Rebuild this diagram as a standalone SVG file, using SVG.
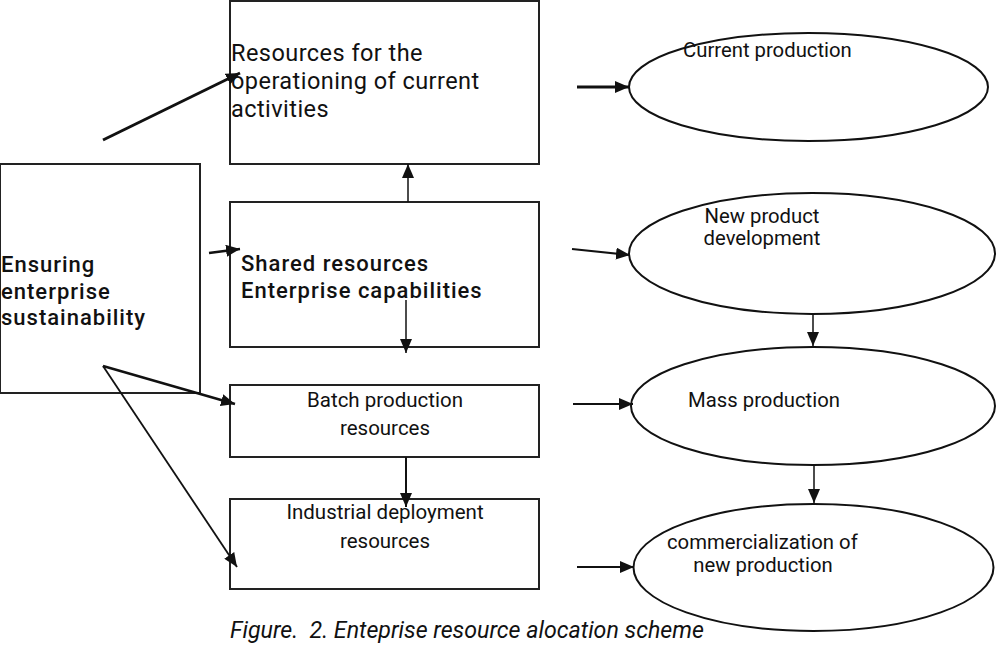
<svg xmlns="http://www.w3.org/2000/svg" width="997" height="654" viewBox="0 0 997 654">
<defs>
<style>
.box{fill:#fff;stroke:#222;stroke-width:2}
.ell{fill:#fff;stroke:#111;stroke-width:2}
.t{font-family:Roboto,"Liberation Sans",sans-serif;fill:#111}
.big{font-size:23.5px;letter-spacing:0.45px}
.bold{font-size:22px;font-weight:500;letter-spacing:1px}
.mid{font-size:20.5px}
.sm{font-size:20.3px}
.cap{font-size:23.2px;font-style:italic;white-space:pre}
.c{stroke:#111;fill:none;marker-end:url(#ah)}
</style>
<marker id="ah" markerUnits="userSpaceOnUse" markerWidth="14" markerHeight="12" refX="14" refY="6" orient="auto">
<path d="M0,0 L14,6 L0,12 z" fill="#111"/>
</marker>
</defs>
<rect width="997" height="654" fill="#fff"/>
<g id="n-ensuring">
<rect class="box" x="0" y="164" width="200" height="229"/>
<text class="t bold" x="1" y="272">Ensuring</text>
<text class="t bold" x="1" y="298.5">enterprise</text>
<text class="t bold" x="1" y="325">sustainability</text>
</g>
<g id="n-current-resources">
<rect class="box" x="230" y="1" width="309" height="163"/>
<text class="t big" x="231" y="61">Resources for the</text>
<text class="t big" x="231" y="89">operationing of current</text>
<text class="t big" x="231" y="117">activities</text>
</g>
<g id="n-shared">
<rect class="box" x="230" y="202" width="309" height="145"/>
<text class="t bold" x="241" y="271">Shared resources</text>
<text class="t bold" x="241" y="297.5">Enterprise capabilities</text>
</g>
<g id="n-batch">
<rect class="box" x="230" y="385" width="309" height="72"/>
<text class="t mid" x="385" y="407" text-anchor="middle">Batch production</text>
<text class="t mid" x="385" y="435" text-anchor="middle">resources</text>
</g>
<g id="n-industrial">
<rect class="box" x="230" y="499" width="309" height="90"/>
<text class="t mid" x="385" y="519" text-anchor="middle">Industrial deployment</text>
<text class="t mid" x="385" y="548" text-anchor="middle">resources</text>
</g>
<g id="n-current-production">
<ellipse class="ell" cx="808.5" cy="87" rx="179.5" ry="54"/>
<text class="t sm" x="683" y="57">Current production</text>
</g>
<g id="n-new-product">
<ellipse class="ell" cx="812" cy="253.5" rx="183" ry="60.5"/>
<text class="t sm" x="762" y="223" text-anchor="middle">New product</text>
<text class="t sm" x="762" y="245" text-anchor="middle">development</text>
</g>
<g id="n-mass">
<ellipse class="ell" cx="813" cy="406" rx="182" ry="59"/>
<text class="t sm" x="764" y="407" text-anchor="middle">Mass production</text>
</g>
<g id="n-commercialization">
<ellipse class="ell" cx="813.5" cy="567.5" rx="180" ry="63.5"/>
<text class="t sm" x="667" y="549">commercialization of</text>
<text class="t sm" x="763" y="572" text-anchor="middle">new production</text>
</g>
<g id="connectors">
<line class="c" x1="103" y1="140" x2="240" y2="73" stroke-width="3"/>
<line class="c" x1="209" y1="253" x2="240" y2="249" stroke-width="2.5"/>
<line class="c" x1="103" y1="366" x2="235" y2="404" stroke-width="2.5"/>
<line class="c" x1="103" y1="366" x2="237" y2="567" stroke-width="1.8"/>
<line class="c" x1="408" y1="202" x2="408" y2="164" stroke-width="1.5"/>
<line class="c" x1="406" y1="300" x2="406" y2="353" stroke-width="1.5"/>
<line class="c" x1="406" y1="457" x2="406" y2="507" stroke-width="2"/>
<line class="c" x1="577" y1="87" x2="629" y2="87" stroke-width="3"/>
<line class="c" x1="572" y1="249" x2="630" y2="255" stroke-width="2.2"/>
<line class="c" x1="573" y1="404" x2="633" y2="404" stroke-width="1.8"/>
<line class="c" x1="577" y1="567" x2="634" y2="567" stroke-width="1.8"/>
<line class="c" x1="813" y1="314" x2="813" y2="346" stroke-width="1.5"/>
<line class="c" x1="814" y1="465" x2="814" y2="503" stroke-width="1.5"/>
</g>
<text class="t cap" x="230" y="638" xml:space="preserve">Figure.  2. Enteprise resource alocation scheme</text>
</svg>
